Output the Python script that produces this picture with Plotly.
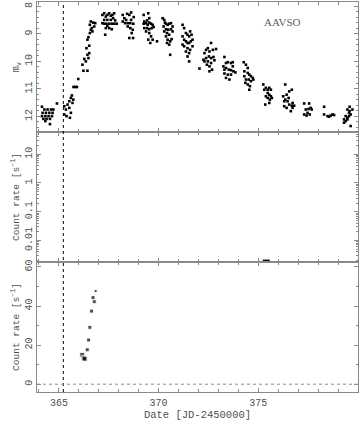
import plotly.graph_objects as go
from plotly.subplots import make_subplots

# ---- AAVSO visual magnitudes (top panel) ----
aavso_date = [
    364.15, 364.27, 364.43, 364.60, 364.72, 364.18, 364.35, 364.52, 364.68, 364.15,
    364.32, 364.48, 364.65, 364.22, 364.38, 364.55, 364.32, 364.55, 364.90,
    365.27, 365.35, 365.43, 365.52, 365.60, 365.65, 365.72, 365.52, 365.60, 365.27,
    365.38, 365.55, 365.68, 365.73, 365.82, 365.90, 365.97,
    366.23, 366.43, 366.18, 366.27, 366.35, 366.48, 366.43, 366.52, 366.38, 366.52,
    366.43, 366.48, 366.55, 366.60, 366.55, 366.65, 366.68, 366.77, 366.82, 366.60, 366.72,
    367.18, 367.27, 367.35, 367.43, 367.52, 367.60, 367.68, 367.18, 367.27, 367.38,
    367.52, 367.65, 367.78, 367.90, 367.27, 367.43, 367.60, 367.35, 367.52, 367.65,
    367.43, 367.32, 367.77, 367.72, 367.82,
    368.20, 368.28, 368.42, 368.53, 368.62, 368.20, 368.32, 368.45, 368.58, 368.73,
    368.45, 368.58, 368.70, 368.65, 368.53, 368.72, 368.37, 368.62, 368.75,
    369.25, 369.48, 369.28, 369.37, 369.45, 369.53, 369.62, 369.70, 369.28, 369.42,
    369.53, 369.65, 369.75, 369.37, 369.53, 369.62, 369.48, 369.58, 369.70, 369.92,
    369.25, 369.42, 369.53,
    370.20, 370.28, 370.37, 370.45, 370.53, 370.62, 370.25, 370.37, 370.48, 370.62,
    370.70, 370.28, 370.42, 370.53, 370.37, 370.45, 370.58, 370.65, 370.42, 370.53,
    370.58, 370.32, 370.70,
    371.20, 371.28, 371.37, 371.45, 371.53, 371.58, 371.20, 371.28, 371.37, 371.45,
    371.53, 371.62, 371.70, 371.28, 371.45, 371.58, 371.70, 371.37, 371.53, 371.45,
    371.53, 371.20, 371.65, 372.05,
    372.30, 372.38, 372.47, 372.55, 372.63, 372.72, 372.88, 372.25, 372.38, 372.52,
    372.63, 372.75, 372.47, 372.63, 372.80, 372.55, 372.68, 372.55, 372.30, 372.42,
    373.30, 373.38, 373.47, 373.63, 373.72, 373.25, 373.38, 373.52, 373.63, 373.75,
    373.85, 373.30, 373.47, 373.63, 373.38, 373.55, 373.30, 373.72,
    374.27, 374.38, 374.47, 374.55, 374.63, 374.72, 374.30, 374.38, 374.52, 374.63,
    374.75, 374.35, 374.47, 374.58, 374.55, 374.30, 374.47,
    375.25, 375.38, 375.47, 375.55, 375.63, 375.47, 375.55, 375.63, 375.38, 375.47,
    375.58, 375.55, 375.35, 375.68, 375.30,
    376.35, 376.42, 376.55, 376.68, 376.25, 376.35, 376.47, 376.55, 376.68, 376.80,
    376.72, 376.30, 376.42, 376.72, 376.63, 376.30, 376.52,
    377.30, 377.55, 377.38, 377.52, 377.63, 377.68, 377.30, 377.42, 377.58, 377.47,
    378.30, 378.30, 378.47, 378.55, 378.63, 378.72, 378.80,
    379.58, 379.47, 379.55, 379.63, 379.38, 379.47, 379.55, 379.30, 379.38, 379.47,
    379.58, 379.63, 379.30, 379.72,
]
aavso_mag = [
    11.65, 11.75, 11.75, 11.75, 11.75, 11.87, 11.87, 11.87, 11.87, 11.99,
    11.99, 11.99, 11.99, 12.09, 12.09, 12.09, 12.17, 12.28, 11.53,
    11.63, 11.75, 11.57, 11.45, 11.33, 11.24, 11.39, 11.69, 11.87, 11.93,
    11.99, 12.05, 11.51, 10.93, 10.93, 10.93, 10.64,
    10.34, 10.34, 10.12, 9.91, 10.00, 9.88, 9.76, 9.70, 9.52, 9.43,
    9.21, 9.12, 8.97, 8.85, 8.67, 8.79, 8.91, 8.73, 8.61, 8.55, 8.59,
    8.31, 8.25, 8.37, 8.31, 8.25, 8.34, 8.31, 8.61, 8.63, 8.63,
    8.63, 8.63, 8.63, 8.63, 8.49, 8.49, 8.49, 8.79, 8.79, 8.83,
    8.71, 9.03, 8.25, 8.43, 8.51,
    8.31, 8.43, 8.27, 8.31, 8.22, 8.55, 8.61, 8.61, 8.61, 8.63,
    8.73, 8.79, 8.85, 8.97, 9.15, 9.15, 8.49, 8.49, 8.39,
    8.31, 8.25, 8.55, 8.61, 8.67, 8.59, 8.63, 8.67, 8.79, 8.79,
    8.83, 8.79, 8.75, 8.91, 8.97, 9.09, 9.21, 9.33, 9.21, 9.27,
    8.63, 8.51, 8.43,
    8.43, 8.49, 8.63, 8.67, 8.63, 8.61, 8.73, 8.83, 8.85, 8.83,
    8.91, 8.91, 8.97, 9.03, 9.09, 9.21, 9.27, 9.19, 9.33, 9.39,
    9.76, 8.59, 8.73,
    8.67, 8.79, 8.97, 9.03, 9.09, 8.91, 9.09, 9.21, 9.27, 9.33,
    9.33, 9.27, 9.21, 9.45, 9.52, 9.58, 9.45, 9.64, 9.70, 9.82,
    10.00, 9.39, 9.03, 10.26,
    9.70, 9.58, 9.52, 9.64, 9.33, 9.58, 9.55, 9.94, 9.88, 9.82,
    9.88, 9.84, 10.00, 10.06, 9.96, 10.18, 10.30, 10.36, 10.00, 10.12,
    9.84, 10.06, 10.03, 10.06, 10.03, 10.18, 10.24, 10.30, 10.32, 10.36,
    10.40, 10.44, 10.48, 10.48, 10.60, 10.66, 10.30, 10.18,
    10.03, 10.12, 10.42, 10.48, 10.54, 10.60, 10.54, 10.66, 10.66, 10.72,
    10.66, 10.78, 10.84, 10.90, 11.03, 10.36, 10.24,
    10.84, 10.96, 11.03, 10.96, 11.03, 11.15, 11.21, 11.27, 11.27, 11.33,
    11.39, 11.51, 11.57, 11.33, 11.03,
    10.84, 11.21, 11.09, 11.03, 11.27, 11.39, 11.45, 11.57, 11.61, 11.61,
    11.51, 11.63, 11.69, 11.69, 11.81, 11.45, 11.33,
    11.53, 11.53, 11.75, 11.73, 11.69, 11.75, 11.93, 11.97, 11.93, 11.87,
    11.65, 11.93, 11.99, 12.01, 11.97, 11.93, 11.95,
    11.65, 11.75, 11.87, 11.93, 11.99, 12.05, 11.99, 12.11, 12.17, 12.11,
    11.81, 12.35, 12.23, 11.75,
]

# ---- middle panel (log count rate) ----
soft_date = [375.4]
soft_rate = [0.002]

# ---- bottom panel (linear count rate) ----
hard_date = [366.17, 366.24, 366.29, 366.42, 366.49, 366.55, 366.64, 366.71, 366.77, 366.84]
hard_rate = [15.0, 13.5, 13.0, 17.6, 22.6, 29.1, 37.4, 44.3, 42.2, 47.7]

outburst_marker = 365.22

x_major = [365, 370, 375]
mag_ticks = [8, 9, 10, 11, 12]
log_ticks = [0.01, 0.1, 1, 10]
log_ticklabels = ["0.01", "0.1", "1", "10"]
log_minor = [m * 10.0 ** e for e in (-3, -2, -1, 0, 1) for m in range(2, 10)]
lin_ticks = [0, 20, 40, 60]

FONT = "Liberation Mono, Courier New, monospace"
TXT = "#505050"
AX = "#8a8a8a"

fig = make_subplots(rows=3, cols=1, shared_xaxes=True, vertical_spacing=0)

fig.add_trace(go.Scatter(x=aavso_date, y=aavso_mag, mode="markers",
                         marker=dict(symbol="square", size=2.6, color="black"),
                         showlegend=False), row=1, col=1)
fig.add_trace(go.Scatter(x=soft_date, y=soft_rate, mode="markers",
                         marker=dict(symbol="line-ew-open", size=5, color="black",
                                     line=dict(color="black", width=2)),
                         showlegend=False), row=2, col=1)
fig.add_trace(go.Scatter(x=hard_date, y=hard_rate, mode="markers",
                         marker=dict(symbol="square", size=[5, 5, 5, 4, 4, 4, 4, 4, 4, 3],
                                     color="black"),
                         showlegend=False), row=3, col=1)

common_x = dict(range=[363.9, 380.0], showline=True, linecolor=AX, linewidth=1,
                mirror="allticks", ticks="inside", ticklen=4, tickcolor=AX,
                tickvals=x_major, showgrid=False, zeroline=False, automargin=False,
                minor=dict(dtick=1, ticks="inside", ticklen=3, tickcolor=AX, showgrid=False),
                tickfont=dict(family=FONT, size=10, color=TXT))
for r in (1, 2, 3):
    fig.update_xaxes(common_x, row=r, col=1)
fig.update_xaxes(showticklabels=True, row=3, col=1, ticklabelstandoff=1,
                 title=dict(text="Date [JD-2450000]", font=dict(family=FONT, size=10.5, color=TXT),
                            standoff=0))

common_y = dict(showline=True, linecolor=AX, linewidth=1, mirror="allticks",
                ticks="inside", ticklen=4, tickcolor=AX, showgrid=False, zeroline=False,
                automargin=False, tickangle=-90,
                tickfont=dict(family=FONT, size=10, color=TXT))
fig.update_yaxes(common_y, row=1, col=1, range=[12.57, 7.84], tickvals=mag_ticks,
                 minor=dict(dtick=0.2, ticks="inside", ticklen=2, tickcolor=AX),
                 title=dict(text="m<sub>v</sub>", font=dict(family=FONT, size=10, color=TXT), standoff=2))
fig.update_yaxes(common_y, row=2, col=1, type="log", range=[-2.75, 1.77],
                 tickvals=log_ticks, ticktext=log_ticklabels,
                 minor=dict(tickvals=log_minor, ticks="inside", ticklen=2, tickcolor=AX),
                 title=dict(text="Count rate [s<sup>−1</sup>]", font=dict(family=FONT, size=9.5, color=TXT), standoff=2))
fig.update_yaxes(common_y, row=3, col=1, range=[-4, 62.5], tickvals=lin_ticks,
                 minor=dict(dtick=10, ticks="inside", ticklen=2, tickcolor=AX),
                 title=dict(text="Count rate [s<sup>−1</sup>]", font=dict(family=FONT, size=9.5, color=TXT), standoff=2))

fig.update_layout(yaxis=dict(domain=[0.6665, 1.0]),
                  yaxis2=dict(domain=[0.3332, 0.6665]),
                  yaxis3=dict(domain=[0.0, 0.3332]))

# vertical dotted line across all panels
fig.add_shape(type="line", xref="x", yref="paper", x0=outburst_marker, x1=outburst_marker,
              y0=0, y1=1, line=dict(color="black", width=1, dash="dot"))
# dotted zero line in bottom panel
fig.add_shape(type="line", xref="x3 domain", yref="y3", x0=0, x1=1, y0=0, y1=0,
              line=dict(color=AX, width=1, dash="dot"))

fig.add_annotation(x=376.2, y=8.56, xref="x", yref="y", text="AAVSO", showarrow=False,
                   font=dict(family="Liberation Serif, Times New Roman, serif", size=11, color="#606060"))

fig.update_layout(width=364, height=429, margin=dict(l=37, r=6, t=2, b=37),
                  paper_bgcolor="white", plot_bgcolor="white")

fig.write_html("out.html", config={"displayModeBar": False},
               post_script="document.body.style.margin='0';document.body.style.overflow='hidden';")
